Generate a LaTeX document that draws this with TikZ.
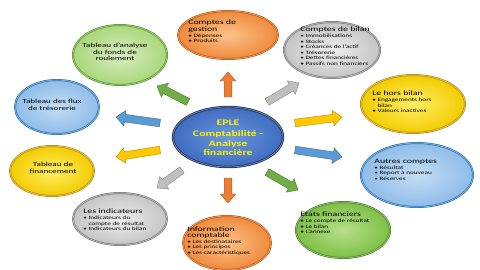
\documentclass[tikz,border=0pt]{standalone}
\usepackage{fontspec}
\setmainfont{Carlito}
\usetikzlibrary{calc,shapes.geometric}
\definecolor{orA}{HTML}{FBC28A}\definecolor{orB}{HTML}{F08A3C}\definecolor{orR}{HTML}{C55A11}
\definecolor{grA}{HTML}{EFEFEF}\definecolor{grB}{HTML}{C4C4C4}\definecolor{grR}{HTML}{7F7F7F}
\definecolor{lgA}{HTML}{D8EDC0}\definecolor{lgB}{HTML}{A9D67A}\definecolor{lgR}{HTML}{5E9A30}
\definecolor{dgA}{HTML}{B5E08A}\definecolor{dgB}{HTML}{7DBF45}\definecolor{dgR}{HTML}{4E8A28}
\definecolor{lbA}{HTML}{C3DDF5}\definecolor{lbB}{HTML}{8FBCE8}\definecolor{lbR}{HTML}{2E75B6}
\definecolor{ylA}{HTML}{FFEE66}\definecolor{ylB}{HTML}{F2CC00}\definecolor{ylR}{HTML}{BF9000}
\definecolor{cbA}{HTML}{6B98DE}\definecolor{cbB}{HTML}{3F6CC0}\definecolor{cbR}{HTML}{1F3864}
\definecolor{arOr}{HTML}{ED7D31}\definecolor{arGr}{HTML}{BFBFBF}\definecolor{arGn}{HTML}{70AD47}
\definecolor{arBl}{HTML}{5B9BD5}\definecolor{arYl}{HTML}{FFC800}
\tikzset{
  ell/.style={ellipse, inner sep=0pt, line width=2pt,
    postaction={draw=white, draw opacity=0.55, line width=0.5pt}},
  eor/.style={ell, inner color=orA, outer color=orB, draw=orR},
  egr/.style={ell, inner color=grA, outer color=grB, draw=grR},
  elg/.style={ell, inner color=lgA, outer color=lgB, draw=lgR},
  edg/.style={ell, inner color=dgA, outer color=dgB, draw=dgR},
  elb/.style={ell, inner color=lbA, outer color=lbB, draw=lbR},
  eyl/.style={ell, inner color=ylA, outer color=ylB, draw=ylR},
  ecb/.style={ell, inner color=cbA, outer color=cbB, draw=cbR, line width=2.4pt},
  lst/.style={anchor=north west, align=left, inner sep=0pt, xscale=1.45,
    font=\fontsize{5}{5.6}\selectfont},
  ctr/.style={align=center, inner sep=0pt, xscale=1.45, font=\fontsize{6.3}{6.6}\selectfont},
}
\newcommand\tf{\fontsize{6.8}{7.4}\selectfont}
\newcommand\bl{\textbullet\ }
\newcommand\blockarr[3]{%
  \coordinate (#1h) at ($(#2)!9pt!(#1)$);
  \filldraw[fill=#3, draw=#3!70!black, line width=0.4pt]
    ($(#1)!3.8pt!90:(#2)$) -- ($(#1h)!3.8pt!90:(#2)$) -- ($(#1h)!7.8pt!90:(#2)$)
    -- (#2) -- ($(#1h)!7.8pt!-90:(#2)$) -- ($(#1h)!3.8pt!-90:(#2)$)
    -- ($(#1)!3.8pt!-90:(#2)$) -- cycle;}
\begin{document}
\begin{tikzpicture}[x=1pt,y=-1pt]
\useasboundingbox (0,0) rectangle (480,270);
\fill[white] (0,0) rectangle (480,270);
% arrows
\coordinate (s1) at (228,97);  \coordinate (e1) at (228,72);
\coordinate (s2) at (267,102); \coordinate (e2) at (299,83);
\coordinate (s3) at (295,123); \coordinate (e3) at (342,117);
\coordinate (s4) at (295,150); \coordinate (e4) at (342,157);
\coordinate (s5) at (267,172); \coordinate (e5) at (298,190);
\coordinate (s6) at (228,178); \coordinate (e6) at (228,203);
\coordinate (s7) at (182,170); \coordinate (e7) at (157,188);
\coordinate (s8) at (160,150); \coordinate (e8) at (116,157);
\coordinate (s9) at (160,123); \coordinate (e9) at (116,117);
\coordinate (s10) at (188,102); \coordinate (e10) at (157,86);
\blockarr{s1}{e1}{arOr}
\blockarr{s2}{e2}{arGr}
\blockarr{s3}{e3}{arYl}
\blockarr{s4}{e4}{arBl}
\blockarr{s5}{e5}{arGn}
\blockarr{s6}{e6}{arOr}
\blockarr{s7}{e7}{arGr}
\blockarr{s8}{e8}{arYl}
\blockarr{s9}{e9}{arBl}
\blockarr{s10}{e10}{arGn}
% center
\node[ecb, minimum width=110pt, minimum height=60pt] (c) at (228,137) {};
\node[align=center, inner sep=0pt, text=yellow, xscale=1.4, font=\bfseries\fontsize{8.5}{9.5}\selectfont] (ct) at (228,138)
  {EPLE\\[1.5pt]Comptabilité -\\Analyse\\financière};
% outer ellipses
\node[eor, minimum width=100pt, minimum height=48pt] (n1) at (228,35) {};
\node[lst] (t1) at (188,20) {{\tf Comptes de}\\{\tf gestion}\\\bl Dépenses\\\bl Produits};
\node[egr, minimum width=96pt, minimum height=56pt] (n2) at (332,50) {};
\node[lst] (t2) at (300,27) {{\tf Comptes de bilan}\\\bl Immobilisations\\\bl Stocks\\\bl Créances de l'actif\\\bl Trésorerie\\\bl Dettes financières\\\bl Passifs non financiers};
\node[elg, minimum width=94pt, minimum height=60pt] (n3) at (120,55) {};
\node[ctr] (t3) at (115,52) {Tableau d'analyse\\du fonds de\\roulement};
\node[elb, minimum width=84pt, minimum height=54pt] (n4) at (57,107) {};
\node[ctr] (t4) at (52,105) {Tableau des flux\\de trésorerie};
\node[eyl, minimum width=104pt, minimum height=58pt] (n5) at (413,104) {};
\node[lst] (t5) at (372,91) {{\tf Le hors bilan}\\\bl Engagements hors\\\hphantom{\bl}bilan\\\bl Valeurs inactives};
\node[eyl, minimum width=84pt, minimum height=50pt] (n6) at (52,171) {};
\node[ctr] (t6) at (53,168) {Tableau de\\financement};
\node[elb, minimum width=112pt, minimum height=64pt] (n7) at (417,175) {};
\node[lst] (t7) at (374,159) {{\tf Autres comptes}\\\bl Résultat\\\bl Report à nouveau\\\bl Réserves};
\node[egr, minimum width=94pt, minimum height=52pt] (n8) at (120,219) {};
\node[lst] (t8) at (83,209) {{\tf Les indicateurs}\\\bl Indicateurs du\\\hphantom{\bl}compte de résultat\\\bl Indicateurs du bilan};
\node[eor, minimum width=88pt, minimum height=54pt] (n9) at (227,243) {};
\node[lst] (t9) at (187,227) {{\tf Information}\\{\tf comptable}\\\bl Les destinataires\\\bl Les principes\\\bl Les caractéristiques};
\node[edg, minimum width=94pt, minimum height=56pt] (n10) at (343,230) {};
\node[lst] (t10) at (300,212) {{\tf Etats financiers}\\\bl Le compte de résultat\\\bl Le bilan\\\bl L'annexe};
\end{tikzpicture}
\end{document}
